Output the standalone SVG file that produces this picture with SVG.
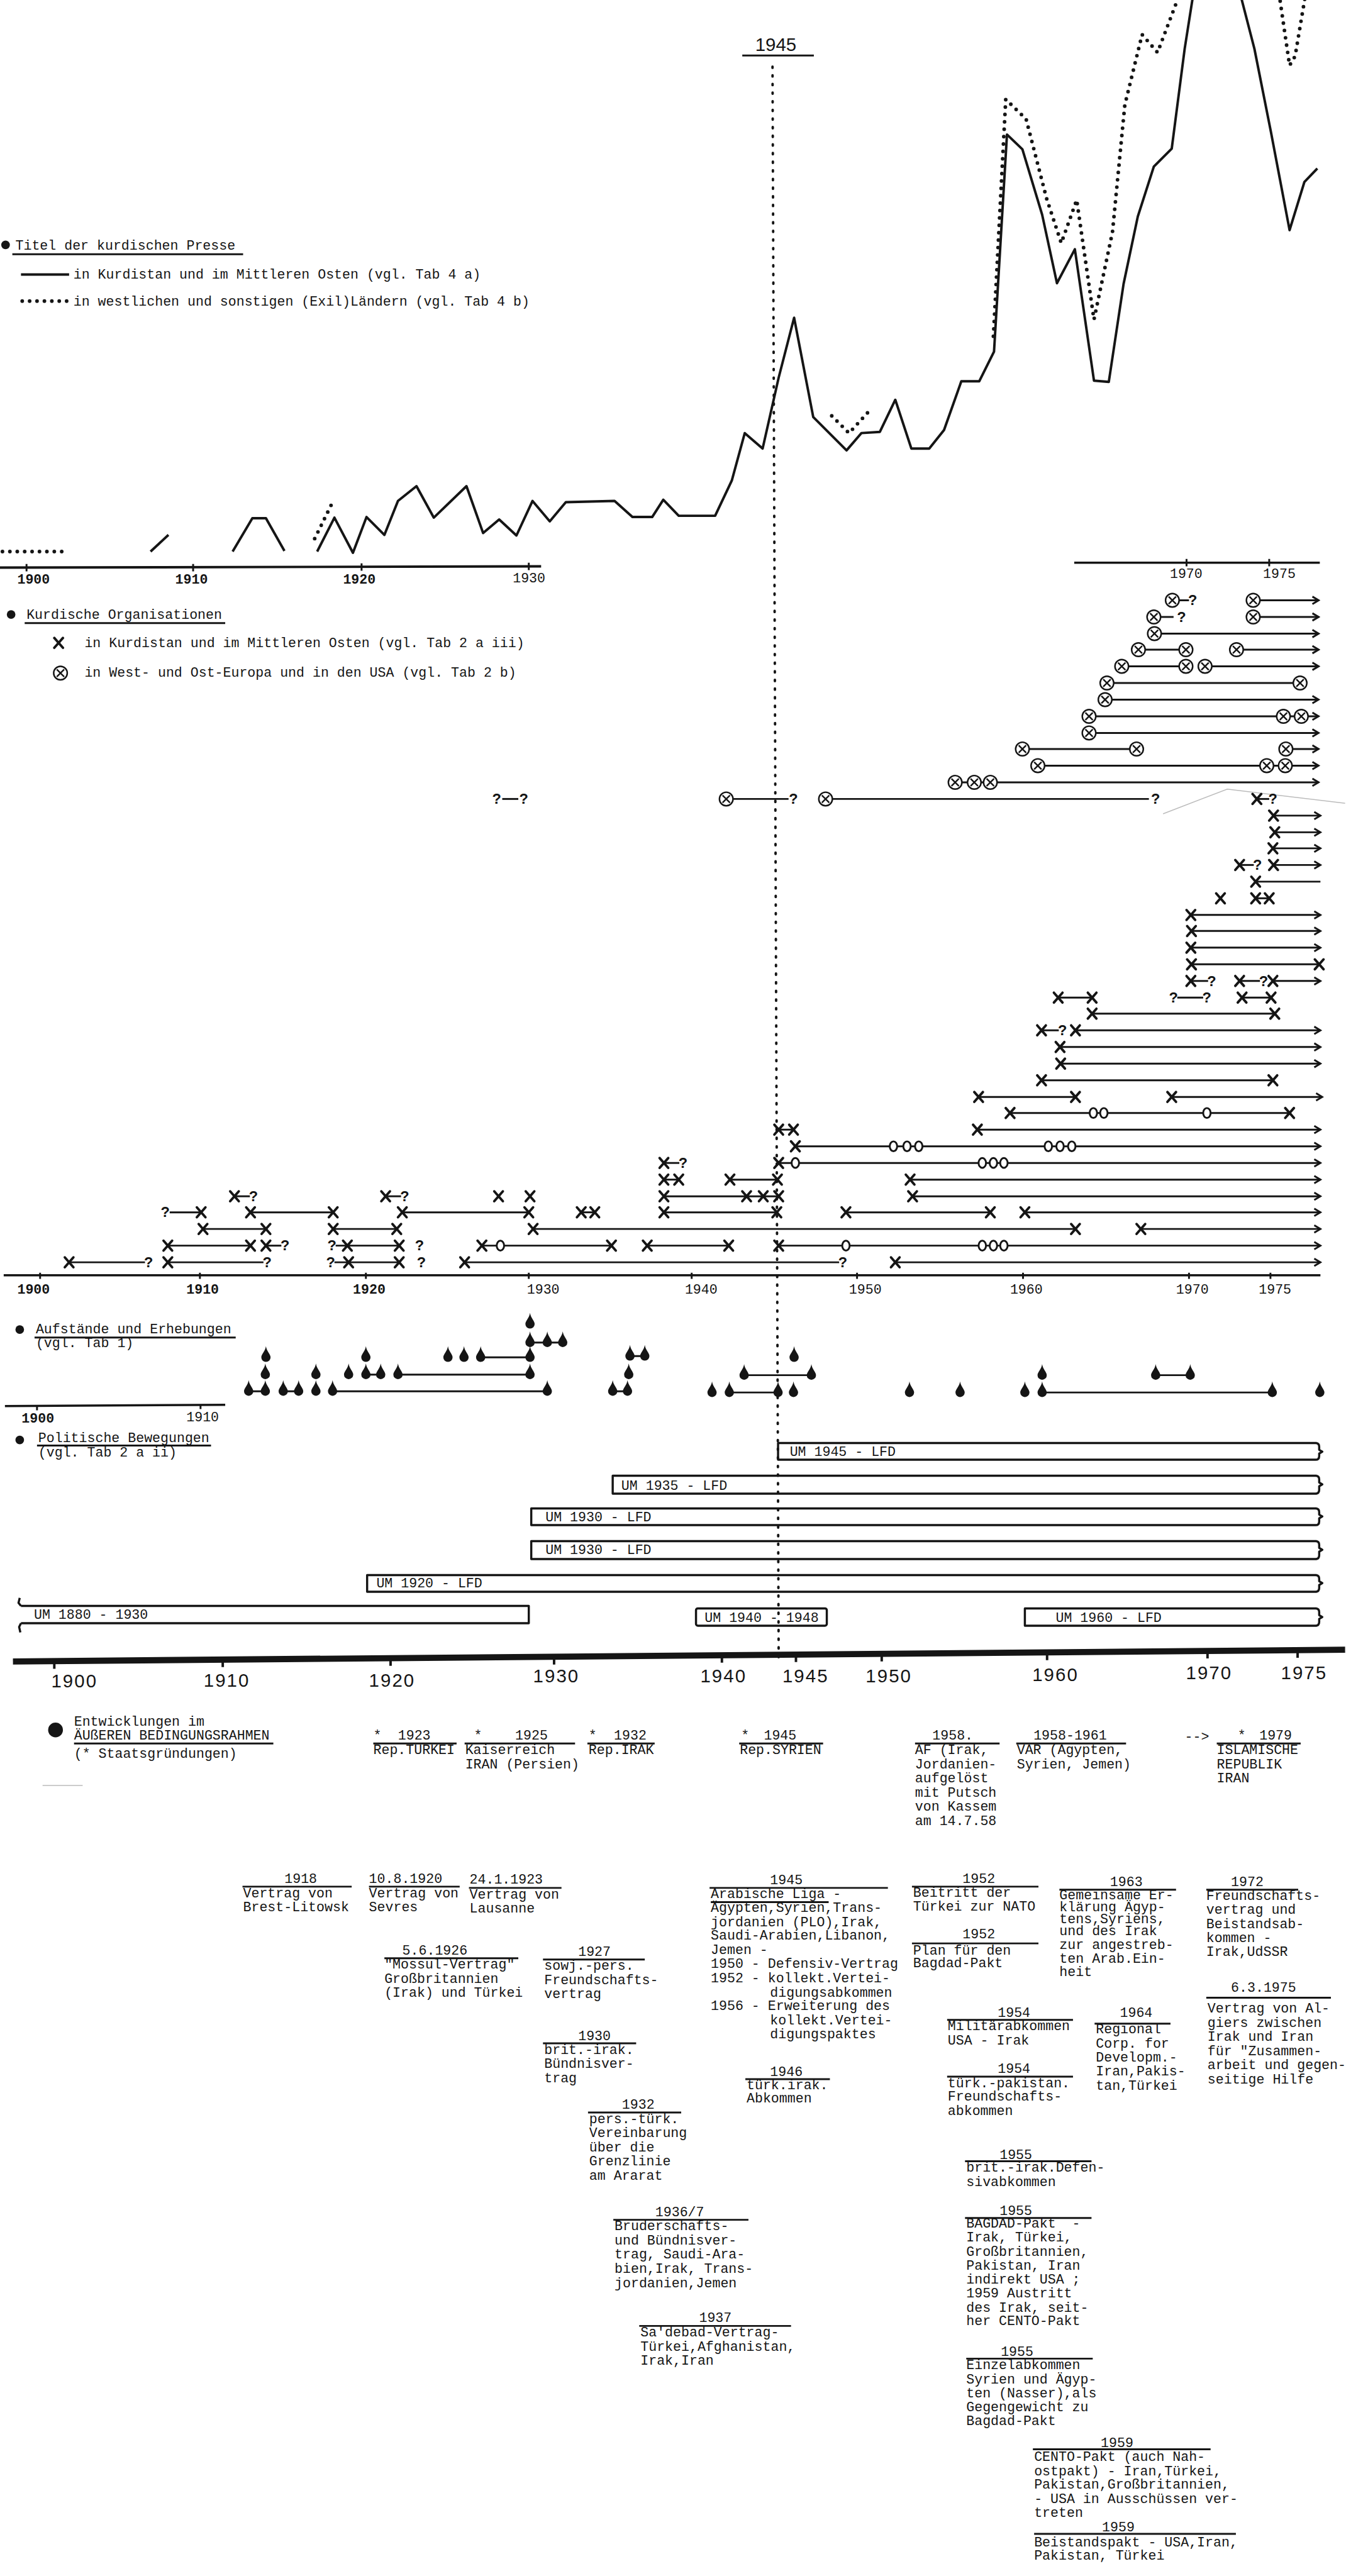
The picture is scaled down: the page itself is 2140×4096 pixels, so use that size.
<svg xmlns="http://www.w3.org/2000/svg" width="2140" height="4096" viewBox="0 0 2140 4096">
<style>
.m{font-family:"Liberation Mono","DejaVu Sans Mono",monospace;font-size:22px;fill:#151515}
.pre{white-space:pre}
.bd{font-weight:bold}
.ax{font-family:"Liberation Sans",Arial,sans-serif;font-size:30px;fill:#151515}
.q{font-family:"Liberation Mono",monospace;font-size:24px;font-weight:bold;fill:#151515;text-anchor:middle}
.ln{stroke:#151515;stroke-width:3;fill:none}
.ul{stroke:#151515;stroke-width:3;fill:none}
.thk{stroke:#151515;stroke-width:4;fill:none;stroke-linejoin:round}
.dt{stroke:#151515;stroke-width:6;stroke-linecap:round;stroke-dasharray:0 12;fill:none}
.vd{stroke:#151515;stroke-width:4;stroke-linecap:round;stroke-dasharray:2 12;fill:none}
.oa{stroke:#151515;stroke-width:3;fill:none;marker-end:url(#ar)}
.bar{stroke:#151515;stroke-width:3.5;fill:none;stroke-linejoin:round}
.faint{stroke:#bbb;stroke-width:1.5;fill:none}
</style>
<defs>
<marker id="ar" markerWidth="16" markerHeight="16" refX="13" refY="8" orient="auto" markerUnits="userSpaceOnUse"><path d="M3,2 L13,8 L3,14" fill="none" stroke="#151515" stroke-width="3"/></marker>
<g id="mx"><path d="M-7,-8 L7,8 M7,-8 L-7,8" stroke="#151515" stroke-width="4" stroke-linecap="round"/></g>
<g id="mo"><circle r="11" fill="#fff" stroke="#151515" stroke-width="2.5"/><path d="M-6,-6 L6,6 M6,-6 L-6,6" stroke="#151515" stroke-width="2.5"/></g>
<ellipse id="mc" rx="6" ry="8" fill="#fff" stroke="#151515" stroke-width="3"/>
<path id="dr" d="M0,-18 C1,-10 7.5,-5 7.5,0 A7.5,7.5 0 0 1 -7.5,0 C-7.5,-5 -1,-10 0,-18Z" fill="#151515"/>
</defs>
<rect width="2140" height="4096" fill="#fff"/>
<g transform="scale(0.981)">

<!-- 1945 marker -->
<g id="marker-1945">
<text x="1224" y="83" class="ax">1945</text>
<line x1="1203" y1="90" x2="1319" y2="90" class="ul"/>
<line x1="1252" y1="108" x2="1262" y2="2692" class="vd"/>
</g>

<!-- Press chart -->
<g id="press-legend">
<circle cx="9" cy="397" r="7" fill="#151515"/>
<text x="25" y="405" class="m">Titel der kurdischen Presse</text>
<line x1="20" y1="412" x2="394" y2="412" class="ul"/>
<line x1="34" y1="445" x2="112" y2="445" class="thk"/>
<text x="119" y="452" class="m">in Kurdistan und im Mittleren Osten (vgl. Tab 4 a)</text>
<line x1="36" y1="488" x2="112" y2="488" class="dt"/>
<text x="119" y="495" class="m">in westlichen und sonstigen (Exil)Ländern (vgl. Tab 4 b)</text>
</g>
<g id="press-chart">
<polyline class="thk" points="514,894 542,839 572,896 594,838 623,867 645,812 675,788 703,839 756,788 783,864 809,842 837,868 863,812 891,845 917,814 996,812 1025,838 1057,838 1075,810 1100,836 1159,836 1186,779 1207,702 1236,727 1262,612 1287,515 1318,676 1372,730 1396,702 1426,700 1451,648 1477,727 1506,727 1530,697 1558,618 1587,618 1611,570 1632,218 1657,242 1689,348 1713,459 1742,404 1773,617 1797,619 1821,460 1844,351 1870,270 1899,241 1920,79 1934,-10"/>
<polyline class="thk" points="2010,-10 2033,79 2060,215 2090,373 2114,295 2135,273"/>
<polyline class="thk" points="244,894 273,867"/>
<polyline class="thk" points="377,894 409,840 431,840 461,893"/>
<line x1="4" y1="894" x2="106" y2="894" class="dt"/>
<line x1="510" y1="873" x2="540" y2="812" class="dt"/>
<polyline class="dt" points="1348,674 1376,702 1407,668"/>
<polyline class="dt" points="1610,545 1630,161 1663,193 1696,321 1720,394 1745,324 1773,518 1803,376 1823,170 1851,56 1876,85 1912,-10"/>
<polyline class="dt" points="2073,-10 2090,106 2099,91 2116,-10"/>
<line x1="0" y1="920" x2="877" y2="918" stroke="#151515" stroke-width="4"/>
<path d="M43,914 V926 M313,914 V926 M586,913 V925 M857,912 V924" class="ln"/>
<text x="28" y="946" class="m bd">1900</text>
<text x="284" y="946" class="m bd">1910</text>
<text x="556" y="946" class="m bd">1920</text>
<text x="831" y="944" class="m">1930</text>
<line x1="1741" y1="912" x2="2139" y2="912" stroke="#151515" stroke-width="3.5"/>
<path d="M1923,906 V918 M2057,906 V918" class="ln"/>
<text x="1896" y="937" class="m">1970</text>
<text x="2047" y="937" class="m">1975</text>
</g>

<!-- Organisations -->
<g id="org-legend">
<circle cx="18" cy="996" r="7" fill="#151515"/>
<text x="43" y="1003" class="m">Kurdische Organisationen</text>
<line x1="40" y1="1010" x2="365" y2="1010" class="ul"/>
<use href="#mx" x="95" y="1042"/>
<text x="137" y="1049" class="m">in Kurdistan und im Mittleren Osten (vgl. Tab 2 a iii)</text>
<use href="#mo" x="98" y="1091"/>
<text x="137" y="1097" class="m">in West- und Ost-Europa und in den USA (vgl. Tab 2 b)</text>
</g>
<path id="fold" class="faint" d="M1885,1319 L1989,1279 L2180,1302"/>
<g id="org-rows">
<g id="r0"><line x1="1900" y1="973" x2="1927" y2="973" class="ln"/><text x="1933" y="981" class="q">?</text><line x1="2031" y1="973" x2="2137" y2="973" class="oa"/><use href="#mo" x="1900" y="973"/><use href="#mo" x="2031" y="973"/></g>
<g id="r1"><line x1="1870" y1="1000" x2="1902" y2="1000" class="ln"/><text x="1915" y="1008" class="q">?</text><line x1="2031" y1="1000" x2="2137" y2="1000" class="oa"/><use href="#mo" x="1870" y="1000"/><use href="#mo" x="2031" y="1000"/></g>
<g id="r2"><line x1="1871" y1="1027" x2="2137" y2="1027" class="oa"/><use href="#mo" x="1871" y="1027"/></g>
<g id="r3"><line x1="1845" y1="1053" x2="1922" y2="1053" class="ln"/><line x1="2004" y1="1053" x2="2137" y2="1053" class="oa"/><use href="#mo" x="1845" y="1053"/><use href="#mo" x="1922" y="1053"/><use href="#mo" x="2004" y="1053"/></g>
<g id="r4"><line x1="1818" y1="1080" x2="1922" y2="1080" class="ln"/><line x1="1953" y1="1080" x2="2137" y2="1080" class="oa"/><use href="#mo" x="1818" y="1080"/><use href="#mo" x="1922" y="1080"/><use href="#mo" x="1953" y="1080"/></g>
<g id="r5"><line x1="1794" y1="1107" x2="2107" y2="1107" class="ln"/><use href="#mo" x="1794" y="1107"/><use href="#mo" x="2107" y="1107"/></g>
<g id="r6"><line x1="1791" y1="1134" x2="2137" y2="1134" class="oa"/><use href="#mo" x="1791" y="1134"/></g>
<g id="r7"><line x1="1765" y1="1161" x2="2137" y2="1161" class="oa"/><use href="#mo" x="1765" y="1161"/><use href="#mo" x="2080" y="1161"/><use href="#mo" x="2109" y="1161"/></g>
<g id="r8"><line x1="1765" y1="1188" x2="2137" y2="1188" class="oa"/><use href="#mo" x="1765" y="1188"/></g>
<g id="r9"><line x1="1657" y1="1214" x2="1842" y2="1214" class="ln"/><line x1="2084" y1="1214" x2="2137" y2="1214" class="oa"/><use href="#mo" x="1657" y="1214"/><use href="#mo" x="1842" y="1214"/><use href="#mo" x="2084" y="1214"/></g>
<g id="r10"><line x1="1682" y1="1241" x2="2137" y2="1241" class="oa"/><use href="#mo" x="1682" y="1241"/><use href="#mo" x="2053" y="1241"/><use href="#mo" x="2083" y="1241"/></g>
<g id="r11"><line x1="1548" y1="1268" x2="2137" y2="1268" class="oa"/><use href="#mo" x="1548" y="1268"/><use href="#mo" x="1579" y="1268"/><use href="#mo" x="1605" y="1268"/></g>
<g id="r12"><text x="805" y="1303" class="q">?</text><line x1="814" y1="1295" x2="840" y2="1295" class="ln"/><text x="849" y="1303" class="q">?</text><line x1="1177" y1="1295" x2="1278" y2="1295" class="ln"/><text x="1286" y="1303" class="q">?</text><line x1="1338" y1="1295" x2="1862" y2="1295" class="ln"/><text x="1873" y="1303" class="q">?</text><line x1="2037" y1="1295" x2="2057" y2="1295" class="ln"/><text x="2063" y="1303" class="q">?</text><use href="#mo" x="1177" y="1295"/><use href="#mo" x="1338" y="1295"/><use href="#mx" x="2037" y="1295"/></g>
<g id="r13"><line x1="2064" y1="1322" x2="2140" y2="1322" class="oa"/><use href="#mx" x="2064" y="1322"/></g>
<g id="r14"><line x1="2066" y1="1349" x2="2140" y2="1349" class="oa"/><use href="#mx" x="2066" y="1349"/></g>
<g id="r15"><line x1="2063" y1="1375" x2="2140" y2="1375" class="oa"/><use href="#mx" x="2063" y="1375"/></g>
<g id="r16"><line x1="2009" y1="1402" x2="2032" y2="1402" class="ln"/><text x="2038" y="1410" class="q">?</text><line x1="2064" y1="1402" x2="2140" y2="1402" class="oa"/><use href="#mx" x="2009" y="1402"/><use href="#mx" x="2064" y="1402"/></g>
<g id="r17"><line x1="2035" y1="1429" x2="2140" y2="1429" class="ln"/><use href="#mx" x="2035" y="1429"/></g>
<g id="r18"><line x1="2035" y1="1456" x2="2057" y2="1456" class="ln"/><use href="#mx" x="1978" y="1456"/><use href="#mx" x="2035" y="1456"/><use href="#mx" x="2057" y="1456"/></g>
<g id="r19"><line x1="1930" y1="1483" x2="2140" y2="1483" class="oa"/><use href="#mx" x="1930" y="1483"/></g>
<g id="r20"><line x1="1931" y1="1509" x2="2140" y2="1509" class="oa"/><use href="#mx" x="1931" y="1509"/></g>
<g id="r21"><line x1="1930" y1="1536" x2="2140" y2="1536" class="oa"/><use href="#mx" x="1930" y="1536"/></g>
<g id="r22"><line x1="1931" y1="1563" x2="2138" y2="1563" class="ln"/><use href="#mx" x="1931" y="1563"/><use href="#mx" x="2138" y="1563"/></g>
<g id="r23"><line x1="1930" y1="1590" x2="1958" y2="1590" class="ln"/><text x="1964" y="1598" class="q">?</text><line x1="2009" y1="1590" x2="2042" y2="1590" class="ln"/><text x="2048" y="1598" class="q">?</text><line x1="2063" y1="1590" x2="2140" y2="1590" class="oa"/><use href="#mx" x="1930" y="1590"/><use href="#mx" x="2009" y="1590"/><use href="#mx" x="2063" y="1590"/></g>
<g id="r24"><line x1="1715" y1="1617" x2="1770" y2="1617" class="ln"/><use href="#mx" x="1715" y="1617"/><use href="#mx" x="1770" y="1617"/><text x="1902" y="1625" class="q">?</text><line x1="1908" y1="1617" x2="1950" y2="1617" class="ln"/><text x="1956" y="1625" class="q">?</text><line x1="2013" y1="1617" x2="2060" y2="1617" class="ln"/><use href="#mx" x="2013" y="1617"/><use href="#mx" x="2060" y="1617"/></g>
<g id="r25"><line x1="1770" y1="1643" x2="2066" y2="1643" class="ln"/><use href="#mx" x="1770" y="1643"/><use href="#mx" x="2066" y="1643"/></g>
<g id="r26"><line x1="1688" y1="1670" x2="1716" y2="1670" class="ln"/><text x="1722" y="1678" class="q">?</text><line x1="1743" y1="1670" x2="2140" y2="1670" class="oa"/><use href="#mx" x="1688" y="1670"/><use href="#mx" x="1743" y="1670"/></g>
<g id="r27"><line x1="1718" y1="1697" x2="2140" y2="1697" class="oa"/><use href="#mx" x="1718" y="1697"/></g>
<g id="r28"><line x1="1719" y1="1724" x2="2140" y2="1724" class="oa"/><use href="#mx" x="1719" y="1724"/></g>
<g id="r29"><line x1="1688" y1="1751" x2="2063" y2="1751" class="ln"/><use href="#mx" x="1688" y="1751"/><use href="#mx" x="2063" y="1751"/></g>
<g id="r30"><line x1="1586" y1="1778" x2="1743" y2="1778" class="ln"/><use href="#mx" x="1586" y="1778"/><use href="#mx" x="1743" y="1778"/><line x1="1899" y1="1778" x2="2143" y2="1778" class="oa"/><use href="#mx" x="1899" y="1778"/></g>
<g id="r31"><line x1="1637" y1="1804" x2="2090" y2="1804" class="ln"/><use href="#mx" x="1637" y="1804"/><use href="#mc" x="1772" y="1804"/><use href="#mc" x="1789" y="1804"/><use href="#mc" x="1956" y="1804"/><use href="#mx" x="2090" y="1804"/></g>
<g id="r32"><line x1="1262" y1="1831" x2="1286" y2="1831" class="ln"/><use href="#mx" x="1262" y="1831"/><use href="#mx" x="1286" y="1831"/><line x1="1584" y1="1831" x2="2140" y2="1831" class="oa"/><use href="#mx" x="1584" y="1831"/></g>
<g id="r33"><line x1="1289" y1="1858" x2="2140" y2="1858" class="oa"/><use href="#mx" x="1289" y="1858"/><use href="#mc" x="1448" y="1858"/><use href="#mc" x="1470" y="1858"/><use href="#mc" x="1489" y="1858"/><use href="#mc" x="1699" y="1858"/><use href="#mc" x="1718" y="1858"/><use href="#mc" x="1737" y="1858"/></g>
<g id="r34"><line x1="1076" y1="1885" x2="1101" y2="1885" class="ln"/><text x="1107" y="1893" class="q">?</text><use href="#mx" x="1076" y="1885"/><line x1="1262" y1="1885" x2="2140" y2="1885" class="oa"/><use href="#mx" x="1262" y="1885"/><use href="#mc" x="1289" y="1885"/><use href="#mc" x="1592" y="1885"/><use href="#mc" x="1610" y="1885"/><use href="#mc" x="1627" y="1885"/></g>
<g id="r35"><line x1="1076" y1="1912" x2="1100" y2="1912" class="ln"/><use href="#mx" x="1076" y="1912"/><use href="#mx" x="1100" y="1912"/><line x1="1183" y1="1912" x2="1260" y2="1912" class="ln"/><use href="#mx" x="1183" y="1912"/><use href="#mx" x="1260" y="1912"/><line x1="1475" y1="1912" x2="2140" y2="1912" class="oa"/><use href="#mx" x="1475" y="1912"/></g>
<g id="r36"><line x1="380" y1="1939" x2="405" y2="1939" class="ln"/><use href="#mx" x="380" y="1939"/><text x="411" y="1947" class="q">?</text><line x1="625" y1="1939" x2="650" y2="1939" class="ln"/><use href="#mx" x="625" y="1939"/><text x="656" y="1947" class="q">?</text><use href="#mx" x="808" y="1939"/><use href="#mx" x="859" y="1939"/><line x1="1076" y1="1939" x2="1262" y2="1939" class="ln"/><use href="#mx" x="1076" y="1939"/><use href="#mx" x="1210" y="1939"/><use href="#mx" x="1237" y="1939"/><use href="#mx" x="1262" y="1939"/><line x1="1479" y1="1939" x2="2140" y2="1939" class="oa"/><use href="#mx" x="1479" y="1939"/></g>
<g id="r37"><text x="268" y="1973" class="q">?</text><line x1="275" y1="1965" x2="326" y2="1965" class="ln"/><use href="#mx" x="326" y="1965"/><line x1="406" y1="1965" x2="540" y2="1965" class="ln"/><use href="#mx" x="406" y="1965"/><use href="#mx" x="540" y="1965"/><line x1="652" y1="1965" x2="857" y2="1965" class="ln"/><use href="#mx" x="652" y="1965"/><use href="#mx" x="857" y="1965"/><line x1="942" y1="1965" x2="964" y2="1965" class="ln"/><use href="#mx" x="942" y="1965"/><use href="#mx" x="964" y="1965"/><line x1="1076" y1="1965" x2="1259" y2="1965" class="ln"/><use href="#mx" x="1076" y="1965"/><use href="#mx" x="1259" y="1965"/><line x1="1371" y1="1965" x2="1605" y2="1965" class="ln"/><use href="#mx" x="1371" y="1965"/><use href="#mx" x="1605" y="1965"/><line x1="1661" y1="1965" x2="2140" y2="1965" class="oa"/><use href="#mx" x="1661" y="1965"/></g>
<g id="r38"><line x1="329" y1="1992" x2="431" y2="1992" class="ln"/><use href="#mx" x="329" y="1992"/><use href="#mx" x="431" y="1992"/><line x1="540" y1="1992" x2="643" y2="1992" class="ln"/><use href="#mx" x="540" y="1992"/><use href="#mx" x="643" y="1992"/><line x1="864" y1="1992" x2="1743" y2="1992" class="ln"/><use href="#mx" x="864" y="1992"/><use href="#mx" x="1743" y="1992"/><line x1="1849" y1="1992" x2="2140" y2="1992" class="oa"/><use href="#mx" x="1849" y="1992"/></g>
<g id="r39"><line x1="272" y1="2019" x2="406" y2="2019" class="ln"/><use href="#mx" x="272" y="2019"/><use href="#mx" x="406" y="2019"/><line x1="431" y1="2019" x2="456" y2="2019" class="ln"/><use href="#mx" x="431" y="2019"/><text x="462" y="2027" class="q">?</text><text x="538" y="2027" class="q">?</text><line x1="544" y1="2019" x2="647" y2="2019" class="ln"/><use href="#mx" x="563" y="2019"/><use href="#mx" x="647" y="2019"/><text x="680" y="2027" class="q">?</text><line x1="781" y1="2019" x2="991" y2="2019" class="ln"/><use href="#mx" x="781" y="2019"/><use href="#mc" x="811" y="2019"/><use href="#mx" x="991" y="2019"/><line x1="1049" y1="2019" x2="1181" y2="2019" class="ln"/><use href="#mx" x="1049" y="2019"/><use href="#mx" x="1181" y="2019"/><line x1="1262" y1="2019" x2="2140" y2="2019" class="oa"/><use href="#mx" x="1262" y="2019"/><use href="#mc" x="1371" y="2019"/><use href="#mc" x="1592" y="2019"/><use href="#mc" x="1610" y="2019"/><use href="#mc" x="1627" y="2019"/></g>
<g id="r40"><line x1="112" y1="2046" x2="235" y2="2046" class="ln"/><use href="#mx" x="112" y="2046"/><text x="241" y="2054" class="q">?</text><line x1="272" y1="2046" x2="427" y2="2046" class="ln"/><use href="#mx" x="272" y="2046"/><text x="433" y="2054" class="q">?</text><text x="536" y="2054" class="q">?</text><line x1="542" y1="2046" x2="647" y2="2046" class="ln"/><use href="#mx" x="565" y="2046"/><use href="#mx" x="647" y="2046"/><text x="683" y="2054" class="q">?</text><line x1="753" y1="2046" x2="1360" y2="2046" class="ln"/><use href="#mx" x="753" y="2046"/><text x="1366" y="2054" class="q">?</text><line x1="1451" y1="2046" x2="2140" y2="2046" class="oa"/><use href="#mx" x="1451" y="2046"/></g>
</g>
<g id="org-axis">
<line x1="6" y1="2067" x2="2140" y2="2067" stroke="#151515" stroke-width="3.5"/>
<path d="M65,2063 V2073 M324,2063 V2073 M593,2063 V2073 M857,2063 V2073 M1121,2063 V2073 M1389,2063 V2073 M1658,2063 V2073 M1927,2063 V2073 M2059,2063 V2073" class="ln"/>
<text x="28" y="2097" class="m bd">1900</text>
<text x="302" y="2097" class="m bd">1910</text>
<text x="572" y="2097" class="m bd">1920</text>
<text x="854" y="2097" class="m">1930</text>
<text x="1110" y="2097" class="m">1940</text>
<text x="1376" y="2097" class="m">1950</text>
<text x="1637" y="2097" class="m">1960</text>
<text x="1906" y="2097" class="m">1970</text>
<text x="2040" y="2097" class="m">1975</text>
</g>

<!-- Uprisings -->
<g id="uprising-legend">
<circle cx="32" cy="2155" r="7" fill="#151515"/>
<text x="58" y="2161" class="m">Aufstände und Erhebungen</text>
<line x1="56" y1="2168" x2="382" y2="2168" class="ul"/>
<text x="58" y="2184" class="m">(vgl. Tab 1)</text>
</g>
<g id="uprisings">
<path class="ln" d="M403,2255 H430 M459,2255 H484 M539,2255 H887 M593,2228 H617 M645,2228 H859 M779,2200 H859 M859,2176 H912 M1021,2198 H1045 M993,2255 H1017 M1182,2257 H1261 M1689,2257 H2062 M1206,2229 H1315 M1873,2229 H1929"/>
<use href="#dr" x="403" y="2255"/><use href="#dr" x="430" y="2255"/><use href="#dr" x="459" y="2255"/><use href="#dr" x="484" y="2255"/><use href="#dr" x="512" y="2255"/><use href="#dr" x="539" y="2255"/><use href="#dr" x="887" y="2255"/>
<use href="#dr" x="430" y="2228"/><use href="#dr" x="512" y="2228"/><use href="#dr" x="565" y="2228"/><use href="#dr" x="593" y="2228"/><use href="#dr" x="617" y="2228"/><use href="#dr" x="645" y="2228"/><use href="#dr" x="859" y="2228"/>
<use href="#dr" x="431" y="2200"/><use href="#dr" x="593" y="2200"/><use href="#dr" x="726" y="2200"/><use href="#dr" x="752" y="2200"/><use href="#dr" x="779" y="2200"/><use href="#dr" x="859" y="2200"/>
<use href="#dr" x="859" y="2176"/><use href="#dr" x="887" y="2176"/><use href="#dr" x="912" y="2176"/>
<use href="#dr" x="859" y="2146"/>
<use href="#dr" x="1021" y="2198"/><use href="#dr" x="1045" y="2198"/><use href="#dr" x="1019" y="2228"/><use href="#dr" x="993" y="2255"/><use href="#dr" x="1017" y="2255"/>
<use href="#dr" x="1154" y="2257"/><use href="#dr" x="1182" y="2257"/><use href="#dr" x="1261" y="2257"/><use href="#dr" x="1286" y="2257"/><use href="#dr" x="1474" y="2257"/><use href="#dr" x="1556" y="2257"/><use href="#dr" x="1661" y="2257"/><use href="#dr" x="1689" y="2257"/><use href="#dr" x="2062" y="2257"/><use href="#dr" x="2139" y="2257"/>
<use href="#dr" x="1206" y="2229"/><use href="#dr" x="1315" y="2229"/><use href="#dr" x="1689" y="2229"/><use href="#dr" x="1873" y="2229"/><use href="#dr" x="1929" y="2229"/>
<use href="#dr" x="1287" y="2200"/>
</g>
<g id="small-axis">
<line x1="8" y1="2279" x2="365" y2="2277" stroke="#151515" stroke-width="3.5"/>
<path d="M60,2279 V2286 M325,2277 V2284" class="ln"/>
<text x="35" y="2306" class="m bd">1900</text>
<text x="302" y="2304" class="m">1910</text>
</g>

<!-- Political movements -->
<g id="politics-legend">
<circle cx="32" cy="2334" r="7" fill="#151515"/>
<text x="62" y="2337" class="m">Politische Bewegungen</text>
<line x1="60" y1="2343" x2="342" y2="2343" class="ul"/>
<text x="62" y="2361" class="m">(vgl. Tab 2 a ii)</text>
</g>
<g id="pb-1945"><path class="bar" d="M2134,2339 H1261 V2366 H2134 M2132,2339 Q2138,2339 2138,2345 V2350 L2143,2353 L2138,2356 V2360 Q2138,2366 2132,2366"/><text x="1280" y="2360" class="m">UM 1945 - LFD</text></g>
<g id="pb-1935"><path class="bar" d="M2134,2392 H993 V2421 H2134 M2132,2392 Q2138,2392 2138,2398 V2403 L2143,2406 L2138,2409 V2415 Q2138,2421 2132,2421"/><text x="1007" y="2415" class="m">UM 1935 - LFD</text></g>
<g id="pb-1930a"><path class="bar" d="M2134,2445 H861 V2472 H2134 M2132,2445 Q2138,2445 2138,2451 V2455 L2143,2458 L2138,2461 V2466 Q2138,2472 2132,2472"/><text x="884" y="2466" class="m">UM 1930 - LFD</text></g>
<g id="pb-1930b"><path class="bar" d="M2134,2498 H861 V2527 H2134 M2132,2498 Q2138,2498 2138,2504 V2509 L2143,2512 L2138,2515 V2521 Q2138,2527 2132,2527"/><text x="884" y="2519" class="m">UM 1930 - LFD</text></g>
<g id="pb-1920"><path class="bar" d="M2134,2553 H595 V2580 H2134 M2132,2553 Q2138,2553 2138,2559 V2563 L2143,2566 L2138,2569 V2574 Q2138,2580 2132,2580"/><text x="610" y="2573" class="m">UM 1920 - LFD</text></g>
<g id="pb-1880"><path class="bar" d="M34,2603 H857 V2631 H34 M34,2603 L30,2598 L32,2590 M34,2631 L31,2637 L33,2646"/><text x="55" y="2624" class="m">UM 1880 - 1930</text></g>
<g id="pb-1940"><rect x="1128" y="2607" width="212" height="28" rx="3" class="bar"/><text x="1142" y="2629" class="m">UM 1940 - 1948</text></g>
<g id="pb-1960"><path class="bar" d="M2134,2607 H1661 V2635 H2134 M2132,2607 Q2138,2607 2138,2613 V2618 L2143,2621 L2138,2624 V2629 Q2138,2635 2132,2635"/><text x="1711" y="2629" class="m">UM 1960 - LFD</text></g>

<!-- Main axis -->
<g id="main-axis">
<line x1="21" y1="2693" x2="2180" y2="2674" stroke="#151515" stroke-width="10"/>
<path d="M88,2693 V2705 M361,2690 V2702 M633,2688 V2700 M898,2686 V2698 M1170,2683 V2695 M1290,2682 V2694 M1429,2681 V2693 M1697,2679 V2691 M1957,2676 V2688 M2103,2675 V2687" stroke="#151515" stroke-width="4"/>
<text x="83" y="2735" class="ax" textLength="73">1900</text>
<text x="330" y="2734" class="ax" textLength="73">1910</text>
<text x="598" y="2734" class="ax" textLength="73">1920</text>
<text x="864" y="2727" class="ax" textLength="73">1930</text>
<text x="1135" y="2727" class="ax" textLength="73">1940</text>
<text x="1268" y="2727" class="ax" textLength="73">1945</text>
<text x="1403" y="2727" class="ax" textLength="73">1950</text>
<text x="1673" y="2725" class="ax" textLength="73">1960</text>
<text x="1922" y="2722" class="ax" textLength="73">1970</text>
<text x="2076" y="2722" class="ax" textLength="73">1975</text>
</g>

<!-- External conditions -->
<g id="ext-legend">
<circle cx="90" cy="2804" r="12" fill="#151515"/>
<text x="120" y="2797" class="m">Entwicklungen im</text>
<text x="120" y="2820" class="m">ÄUßEREN BEDINGUNGSRAHMEN</text>
<line x1="120" y1="2826" x2="443" y2="2826" class="ul"/>
<text x="120" y="2849" class="m">(* Staatsgründungen)</text>
<line x1="69" y1="2894" x2="134" y2="2894" class="faint"/>
</g>
<g id="s-1923"><text x="605" y="2820" class="m">*</text><text x="645" y="2820" class="m">1923</text><line x1="605" y1="2826" x2="740" y2="2826" class="ul"/><text x="605" y="2843" class="m">Rep.TÜRKEI</text></g>
<g id="s-1925"><text x="768" y="2820" class="m">*</text><text x="835" y="2820" class="m">1925</text><line x1="753" y1="2826" x2="932" y2="2826" class="ul"/><text x="754" y="2843" class="m">Kaiserreich</text><text x="754" y="2866" class="m">IRAN (Persien)</text></g>
<g id="s-1932"><text x="954" y="2820" class="m">*</text><text x="995" y="2820" class="m">1932</text><line x1="952" y1="2826" x2="1061" y2="2826" class="ul"/><text x="954" y="2843" class="m">Rep.IRAK</text></g>
<g id="s-1945"><text x="1201" y="2820" class="m">*</text><text x="1238" y="2820" class="m">1945</text><line x1="1198" y1="2826" x2="1334" y2="2826" class="ul"/><text x="1199" y="2843" class="m">Rep.SYRIEN</text></g>
<g id="s-1958"><text x="1511" y="2820" class="m">1958.</text><line x1="1483" y1="2826" x2="1620" y2="2826" class="ul"/><text x="1483" y="2843" class="m">AF (Irak,</text><text x="1483" y="2866" class="m">Jordanien-</text><text x="1483" y="2889" class="m">aufgelöst</text><text x="1483" y="2912" class="m">mit Putsch</text><text x="1483" y="2935" class="m">von Kassem</text><text x="1483" y="2958" class="m">am 14.7.58</text></g>
<g id="s-1958-1961"><text x="1675" y="2820" class="m">1958-1961</text><line x1="1647" y1="2826" x2="1825" y2="2826" class="ul"/><text x="1648" y="2843" class="m">VAR (Ägypten,</text><text x="1648" y="2866" class="m">Syrien, Jemen)</text></g>
<g id="s-1979"><text x="1920" y="2822" class="m">--&gt;</text><text x="2006" y="2820" class="m">*</text><text x="2041" y="2820" class="m">1979</text><line x1="1972" y1="2826" x2="2108" y2="2826" class="ul"/><text x="1972" y="2843" class="m">ISLAMISCHE</text><text x="1972" y="2866" class="m">REPUBLIK</text><text x="1972" y="2889" class="m">IRAN</text></g>

<g id="t-1918"><text x="461" y="3052" class="m">1918</text><line x1="393" y1="3058" x2="570" y2="3058" class="ul"/><text x="394" y="3075" class="m">Vertrag von</text><text x="394" y="3098" class="m">Brest-Litowsk</text></g>
<g id="t-1920"><text x="598" y="3052" class="m">10.8.1920</text><line x1="598" y1="3058" x2="745" y2="3058" class="ul"/><text x="598" y="3075" class="m">Vertrag von</text><text x="598" y="3098" class="m">Sevres</text></g>
<g id="t-1923"><text x="761" y="3053" class="m">24.1.1923</text><line x1="760" y1="3060" x2="910" y2="3060" class="ul"/><text x="761" y="3077" class="m">Vertrag von</text><text x="761" y="3100" class="m">Lausanne</text></g>
<g id="t-1926"><text x="652" y="3168" class="m">5.6.1926</text><line x1="623" y1="3174" x2="840" y2="3174" class="ul"/><text x="623" y="3191" class="m">&quot;Mossul-Vertrag&quot;</text><text x="623" y="3214" class="m">Großbritannien</text><text x="623" y="3237" class="m">(Irak) und Türkei</text></g>
<g id="t-1927"><text x="937" y="3170" class="m">1927</text><line x1="880" y1="3176" x2="1045" y2="3176" class="ul"/><text x="882" y="3193" class="m">sowj.-pers.</text><text x="882" y="3216" class="m">Freundschafts-</text><text x="882" y="3239" class="m">vertrag</text></g>
<g id="t-1930"><text x="937" y="3307" class="m">1930</text><line x1="880" y1="3312" x2="1031" y2="3312" class="ul"/><text x="882" y="3329" class="m">brit.-irak.</text><text x="882" y="3352" class="m">Bündnisver-</text><text x="882" y="3375" class="m">trag</text></g>
<g id="t-1932"><text x="1008" y="3418" class="m">1932</text><line x1="953" y1="3424" x2="1104" y2="3424" class="ul"/><text x="955" y="3441" class="m">pers.-türk.</text><text x="955" y="3464" class="m">Vereinbarung</text><text x="955" y="3487" class="m">über die</text><text x="955" y="3510" class="m">Grenzlinie</text><text x="955" y="3533" class="m">am Ararat</text></g>
<g id="t-1936"><text x="1062" y="3592" class="m">1936/7</text><line x1="994" y1="3598" x2="1213" y2="3598" class="ul"/><text x="996" y="3615" class="m">Bruderschafts-</text><text x="996" y="3638" class="m">und Bündnisver-</text><text x="996" y="3661" class="m">trag, Saudi-Ara-</text><text x="996" y="3684" class="m">bien,Irak, Trans-</text><text x="996" y="3707" class="m">jordanien,Jemen</text></g>
<g id="t-1937"><text x="1133" y="3764" class="m">1937</text><line x1="1036" y1="3770" x2="1282" y2="3770" class="ul"/><text x="1038" y="3787" class="m">Sa'debad-Vertrag-</text><text x="1038" y="3810" class="m">Türkei,Afghanistan,</text><text x="1038" y="3833" class="m">Irak,Iran</text></g>
<g id="t-1945"><text x="1248" y="3054" class="m">1945</text><line x1="1150" y1="3060" x2="1439" y2="3060" class="ul"/><text x="1152" y="3076" class="m">Arabische Liga -</text><line x1="1152" y1="3083" x2="1343" y2="3083" class="ul"/><text x="1152" y="3099" class="m">Ägypten,Syrien,Trans-</text><text x="1152" y="3122" class="m">jordanien (PLO),Irak,</text><text x="1152" y="3144" class="m">Saudi-Arabien,Libanon,</text><text x="1152" y="3167" class="m">Jemen -</text><text x="1152" y="3190" class="m">1950 - Defensiv-Vertrag</text><text x="1152" y="3213" class="m">1952 - kollekt.Vertei-</text><text x="1248" y="3236" class="m">digungsabkommen</text><text x="1152" y="3258" class="m">1956 - Erweiterung des</text><text x="1248" y="3281" class="m">kollekt.Vertei-</text><text x="1248" y="3304" class="m">digungspaktes</text></g>
<g id="t-1946"><text x="1248" y="3365" class="m">1946</text><line x1="1208" y1="3370" x2="1345" y2="3370" class="ul"/><text x="1210" y="3386" class="m">türk.irak.</text><text x="1210" y="3408" class="m">Abkommen</text></g>
<g id="t-1952a"><text x="1560" y="3052" class="m">1952</text><line x1="1478" y1="3058" x2="1683" y2="3058" class="ul"/><text x="1480" y="3074" class="m">Beitritt der</text><text x="1480" y="3097" class="m">Türkei zur NATO</text></g>
<g id="t-1952b"><text x="1560" y="3142" class="m">1952</text><line x1="1478" y1="3150" x2="1683" y2="3150" class="ul"/><text x="1480" y="3168" class="m">Plan für den</text><text x="1480" y="3189" class="m">Bagdad-Pakt</text></g>
<g id="t-1963"><text x="1799" y="3057" class="m">1963</text><line x1="1717" y1="3063" x2="1906" y2="3063" class="ul"/><text x="1717" y="3079" class="m">Gemeinsame Er-</text><text x="1717" y="3098" class="m">klärung Ägyp-</text><text x="1717" y="3117" class="m">tens,Syriens,</text><text x="1717" y="3137" class="m">und des Irak</text><text x="1717" y="3159" class="m">zur angestreb-</text><text x="1717" y="3181" class="m">ten Arab.Ein-</text><text x="1717" y="3203" class="m">heit</text></g>
<g id="t-1972"><text x="1995" y="3057" class="m">1972</text><line x1="1955" y1="3063" x2="2104" y2="3063" class="ul"/><text x="1955" y="3080" class="m">Freundschafts-</text><text x="1955" y="3102" class="m">vertrag und</text><text x="1955" y="3125" class="m">Beistandsab-</text><text x="1955" y="3148" class="m">kommen -</text><text x="1955" y="3170" class="m">Irak,UdSSR</text></g>
<g id="t-1975"><text x="1995" y="3228" class="m">6.3.1975</text><line x1="1955" y1="3238" x2="2157" y2="3238" class="ul"/><text x="1957" y="3262" class="m">Vertrag von Al-</text><text x="1957" y="3285" class="m">giers zwischen</text><text x="1957" y="3308" class="m">Irak und Iran</text><text x="1957" y="3331" class="m">für &quot;Zusammen-</text><text x="1957" y="3354" class="m">arbeit und gegen-</text><text x="1957" y="3377" class="m">seitige Hilfe</text></g>
<g id="t-1954a"><text x="1617" y="3269" class="m">1954</text><line x1="1535" y1="3274" x2="1739" y2="3274" class="ul"/><text x="1536" y="3291" class="m">Militärabkommen</text><text x="1536" y="3314" class="m">USA - Irak</text></g>
<g id="t-1964"><text x="1815" y="3269" class="m">1964</text><line x1="1774" y1="3280" x2="1897" y2="3280" class="ul"/><text x="1776" y="3296" class="m">Regional</text><text x="1776" y="3319" class="m">Corp. for</text><text x="1776" y="3342" class="m">Developm.-</text><text x="1776" y="3364" class="m">Iran,Pakis-</text><text x="1776" y="3387" class="m">tan,Türkei</text></g>
<g id="t-1954b"><text x="1617" y="3360" class="m">1954</text><line x1="1535" y1="3366" x2="1739" y2="3366" class="ul"/><text x="1536" y="3383" class="m">türk.-pakistan.</text><text x="1536" y="3405" class="m">Freundschafts-</text><text x="1536" y="3428" class="m">abkommen</text></g>
<g id="t-1955a"><text x="1620" y="3499" class="m">1955</text><line x1="1564" y1="3503" x2="1769" y2="3503" class="ul"/><text x="1566" y="3520" class="m">brit.-irak.Defen-</text><text x="1566" y="3543" class="m">sivabkommen</text></g>
<g id="t-1955b"><text x="1620" y="3590" class="m">1955</text><line x1="1564" y1="3595" x2="1769" y2="3595" class="ul"/><text x="1566" y="3611" class="m pre">BAGDAD-Pakt  -</text><text x="1566" y="3633" class="m">Irak, Türkei,</text><text x="1566" y="3656" class="m">Großbritannien,</text><text x="1566" y="3679" class="m">Pakistan, Iran</text><text x="1566" y="3701" class="m">indirekt USA ;</text><text x="1566" y="3724" class="m">1959 Austritt</text><text x="1566" y="3747" class="m">des Irak, seit-</text><text x="1566" y="3769" class="m">her CENTO-Pakt</text></g>
<g id="t-1955c"><text x="1622" y="3819" class="m">1955</text><line x1="1566" y1="3823" x2="1771" y2="3823" class="ul"/><text x="1566" y="3840" class="m">Einzelabkommen</text><text x="1566" y="3863" class="m">Syrien und Ägyp-</text><text x="1566" y="3886" class="m">ten (Nasser),als</text><text x="1566" y="3908" class="m">Gegengewicht zu</text><text x="1566" y="3931" class="m">Bagdad-Pakt</text></g>
<g id="t-1959a"><text x="1784" y="3966" class="m">1959</text><line x1="1674" y1="3970" x2="1962" y2="3970" class="ul"/><text x="1676" y="3989" class="m">CENTO-Pakt (auch Nah-</text><text x="1676" y="4012" class="m">ostpakt) - Iran,Türkei,</text><text x="1676" y="4034" class="m">Pakistan,Großbritannien,</text><text x="1676" y="4057" class="m">- USA in Ausschüssen ver-</text><text x="1676" y="4080" class="m">treten</text></g>
<g id="t-1959b"><text x="1786" y="4103" class="m">1959</text><line x1="1676" y1="4107" x2="2003" y2="4107" class="ul"/><text x="1676" y="4127" class="m">Beistandspakt - USA,Iran,</text><text x="1676" y="4149" class="m">Pakistan, Türkei</text></g>
</g>
</svg>
